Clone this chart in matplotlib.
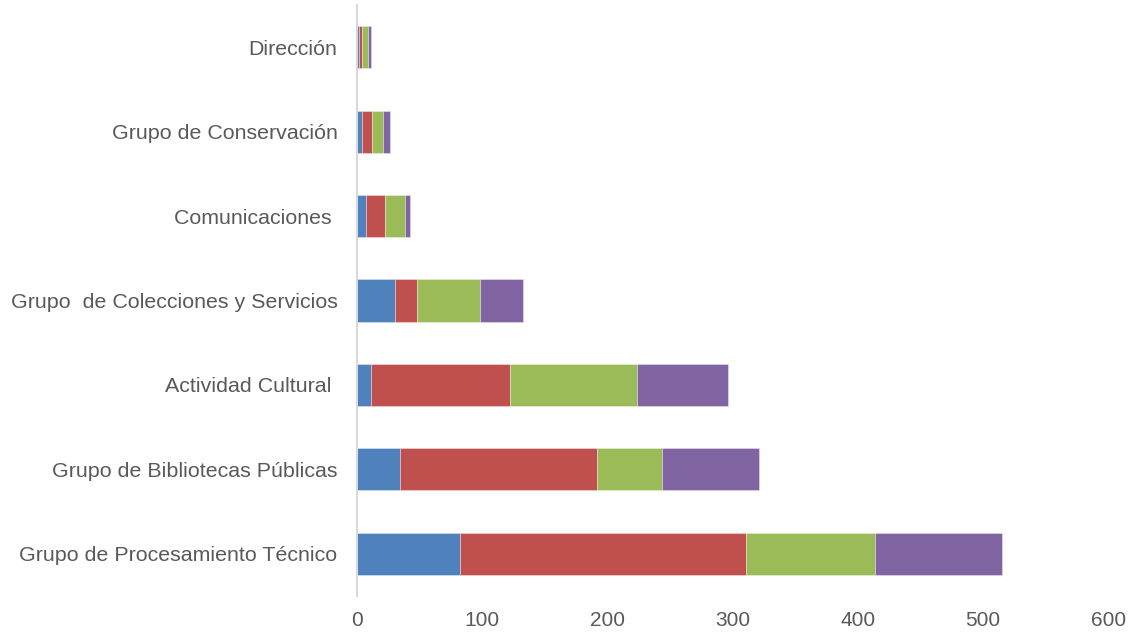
import matplotlib
matplotlib.use("Agg")
import matplotlib.pyplot as plt
import numpy as np

categories = ["Grupo de Procesamiento Técnico", "Grupo de Bibliotecas Públicas",
              "Actividad Cultural ", "Grupo  de Colecciones y Servicios",
              "Comunicaciones ", "Grupo de Conservación", "Dirección"]
serie1 = [82, 34, 11, 30, 7, 4, 2]
serie2 = [229, 158, 111, 18, 15, 8, 2]
serie3 = [103, 52, 102, 50, 16, 9, 5]
serie4 = [101, 77, 72, 35, 4, 5, 2]
xticks = [0, 100, 200, 300, 400, 500, 600]

colors = ["#4F81BD", "#C0504D", "#9BBB59", "#8064A2"]

plt.rcParams['font.family'] = ['Liberation Sans', 'DejaVu Sans']
fig = plt.figure(figsize=(11.38, 6.34), dpi=100)
ax = fig.add_axes([0.3137, 0.060, 0.66, 0.932])

y = np.arange(len(categories))
left = np.zeros(len(categories))
for vals, c in zip([serie1, serie2, serie3, serie4], colors):
    ax.barh(y, vals, left=left, height=0.5, color=c, edgecolor=(1, 1, 1, 0.4), linewidth=0.6)
    left += np.array(vals)

ax.set_xlim(0, 600)
ax.set_ylim(-0.5, len(categories) - 0.5)
ax.set_xticks(xticks)
ax.set_yticks(y)
ax.set_yticklabels(categories)
for s in ["top", "right", "bottom"]:
    ax.spines[s].set_visible(False)
ax.spines["left"].set_color("#d9d9d9")
ax.spines["left"].set_linewidth(1.5)
ax.tick_params(axis="both", length=0, labelcolor="#595959")
ax.tick_params(axis="y", pad=14, labelsize=15.4)
ax.tick_params(axis="x", pad=11, labelsize=15)

fig.savefig("out.png", dpi=100)
